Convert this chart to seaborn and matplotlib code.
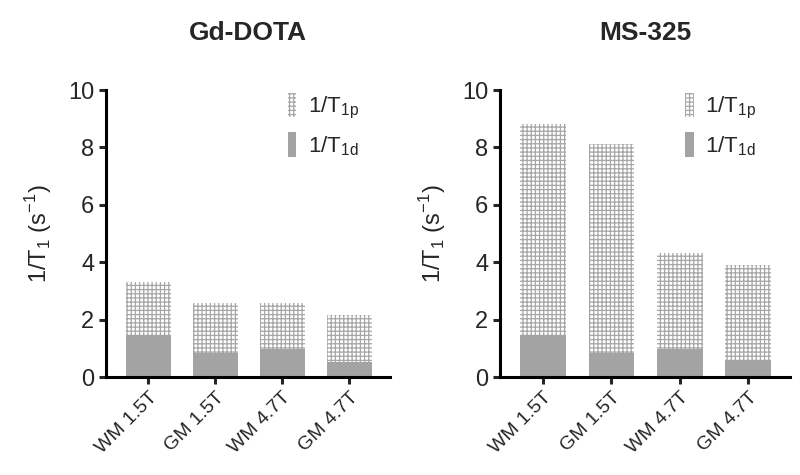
import matplotlib
matplotlib.use("Agg")
import matplotlib.pyplot as plt
import seaborn as sns
import pandas as pd

# values (stacked: 1/T1d at the bottom, 1/T1p on top)
categories = ["WM 1.5T", "GM 1.5T", "WM 4.7T", "GM 4.7T"]
gd_total = [3.31, 2.59, 2.59, 2.17]
gd_t1d = [1.48, 0.84, 0.99, 0.52]
ms_total = [8.81, 8.13, 4.31, 3.91]
ms_t1d = [1.47, 0.83, 0.98, 0.55]
titles = ["Gd-DOTA", "MS-325"]

sns.set_theme(style="ticks")
plt.rcParams["font.family"] = ["Liberation Sans", "DejaVu Sans"]
plt.rcParams["hatch.linewidth"] = 0.9

fig = plt.figure(figsize=(8, 4.75), dpi=100)
ax_left = fig.add_axes([0.1325, 0.2063, 0.355, 0.6042])
ax_right = fig.add_axes([0.625, 0.2063, 0.3625, 0.6042])

grey = "#a3a3a3"
hatch_grey = "#a6a6a6"

for ax, title, total, t1d in zip([ax_left, ax_right], titles,
                                 [gd_total, ms_total], [gd_t1d, ms_t1d]):
    df = pd.DataFrame({"cond": categories, "total": total, "t1d": t1d})
    sns.barplot(data=df, x="cond", y="total", ax=ax, color="white",
                width=0.67, saturation=1, edgecolor=hatch_grey, linewidth=0,
                hatch="++++", label="1/T$_\\mathregular{1p}$")
    sns.barplot(data=df, x="cond", y="t1d", ax=ax, color=grey,
                width=0.67, saturation=1, linewidth=0,
                label="1/T$_\\mathregular{1d}$")

    ax.set_ylim(0, 10)
    ax.set_yticks([0, 2, 4, 6, 8, 10])
    ax.set_xlim(-0.63, 3.61)
    ax.set_xlabel("")
    ax.set_ylabel("1/T$_\\mathregular{1}$ (s$^\\mathregular{-1}$)",
                  fontsize=17, labelpad=10)
    ax.set_title(title, fontsize=19, fontweight="bold", pad=36)
    ax.tick_params(axis="y", labelsize=17, width=2.2, length=5)
    ax.tick_params(axis="x", labelsize=14, width=2.2, length=5)
    plt.setp(ax.get_xticklabels(), rotation=45, ha="right",
             rotation_mode="anchor")
    sns.despine(ax=ax)
    for side in ["left", "bottom"]:
        ax.spines[side].set_linewidth(2.2)
        ax.spines[side].set_color("black")

    ax.legend(loc="upper left", bbox_to_anchor=(0.6, 1.03), frameon=False,
              fontsize=16, handlelength=0.4, handleheight=1.35,
              handletextpad=0.5, labelspacing=0.5, borderpad=0)

fig.savefig("out.png", dpi=100)
